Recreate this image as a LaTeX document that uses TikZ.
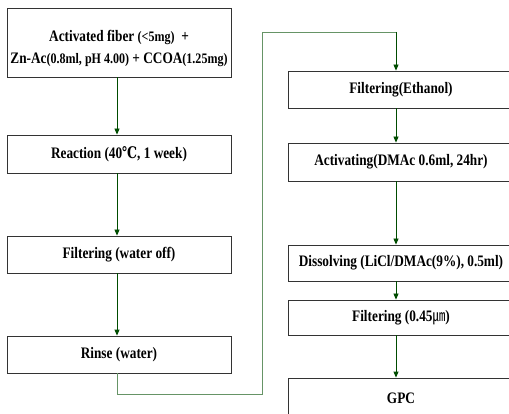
\documentclass[tikz,border=0pt]{standalone}
\usepackage{fontspec}
\setmainfont{Liberation Serif}[FakeStretch=0.83]
\newfontfamily\degfont{DejaVu Serif}[FakeStretch=0.78]
\newfontfamily\cjkfont{Noto Sans CJK KR}[FakeStretch=0.8]
\usetikzlibrary{arrows.meta}

\begin{document}
\begin{tikzpicture}[x=1pt, y=-1pt,
  box/.style={draw=black!80, line width=0.8pt, rectangle, inner sep=0pt, align=center,
    font=\fontsize{16}{22}\selectfont\bfseries},
  flow/.style={draw=green!30!black, line width=0.8pt, -{Triangle[length=6pt, width=5pt]}},
  link/.style={draw=green!30!black!60, line width=0.8pt}]
\useasboundingbox (0,0) rectangle (509,414);

% left column
\node[box, minimum width=224pt, minimum height=69pt] (fiber) at (119,42.5)
  {\rule{0pt}{23pt}Activated fiber {\fontsize{14.5}{14}\selectfont(<5mg)}\ \ +\\
   Zn-Ac{\fontsize{14.5}{14}\selectfont(0.8ml, pH 4.00)} + CCOA{\fontsize{14.5}{14}\selectfont(1.25mg)}};
\node[box, minimum width=224pt, minimum height=38pt] (react) at (119,154)
  {Reaction (40{\degfont\bfseries ℃}, 1 week)};
\node[box, minimum width=224pt, minimum height=37pt] (filtw) at (119,254.5)
  {Filtering (water off)};
\node[box, minimum width=224pt, minimum height=37pt] (rinse) at (119,354.5)
  {Rinse (water)};

% right column
\node[box, minimum width=226pt, minimum height=37pt] (filte) at (401,89.5)
  {Filtering(Ethanol)};
\node[box, minimum width=226pt, minimum height=38pt] (activ) at (401,162)
  {Activating(DMAc 0.6ml, 24hr)};
\node[box, minimum width=226pt, minimum height=36pt] (disso) at (401,263)
  {Dissolving (LiCl/DMAc(9\%), 0.5ml)};
\node[box, minimum width=226pt, minimum height=35pt] (filtm) at (401,317.5)
  {Filtering (0.45{\cjkfont\mdseries ㎛})};
\node[box, minimum width=226pt, minimum height=40pt] (gpc) at (401,398)
  {GPC};

\draw[flow] ([xshift=-2pt]fiber.south) -- ([xshift=-2pt]react.north);
\draw[flow] ([xshift=-2pt]react.south) -- ([xshift=-2pt]filtw.north);
\draw[flow] ([xshift=-2pt]filtw.south) -- ([xshift=-2pt]rinse.north);

\coordinate (turnA) at (262,394);
\coordinate (turnB) at (262,32);
\draw[link] ([xshift=-2pt]rinse.south) |- (turnA) -- (turnB) -- ([xshift=-5pt]filte.north |- turnB);
\draw[flow] ([xshift=-5pt]filte.north |- turnB) -- ([xshift=-5pt]filte.north);

\draw[flow] ([xshift=-5pt]filte.south) -- ([xshift=-5pt]activ.north);
\draw[flow] ([xshift=-5pt]activ.south) -- ([xshift=-5pt]disso.north);
\draw[flow] ([xshift=-5pt]disso.south) -- ([xshift=-5pt]filtm.north);
\draw[flow] ([xshift=-5pt]filtm.south) -- ([xshift=-5pt]gpc.north);
\end{tikzpicture}
\end{document}
